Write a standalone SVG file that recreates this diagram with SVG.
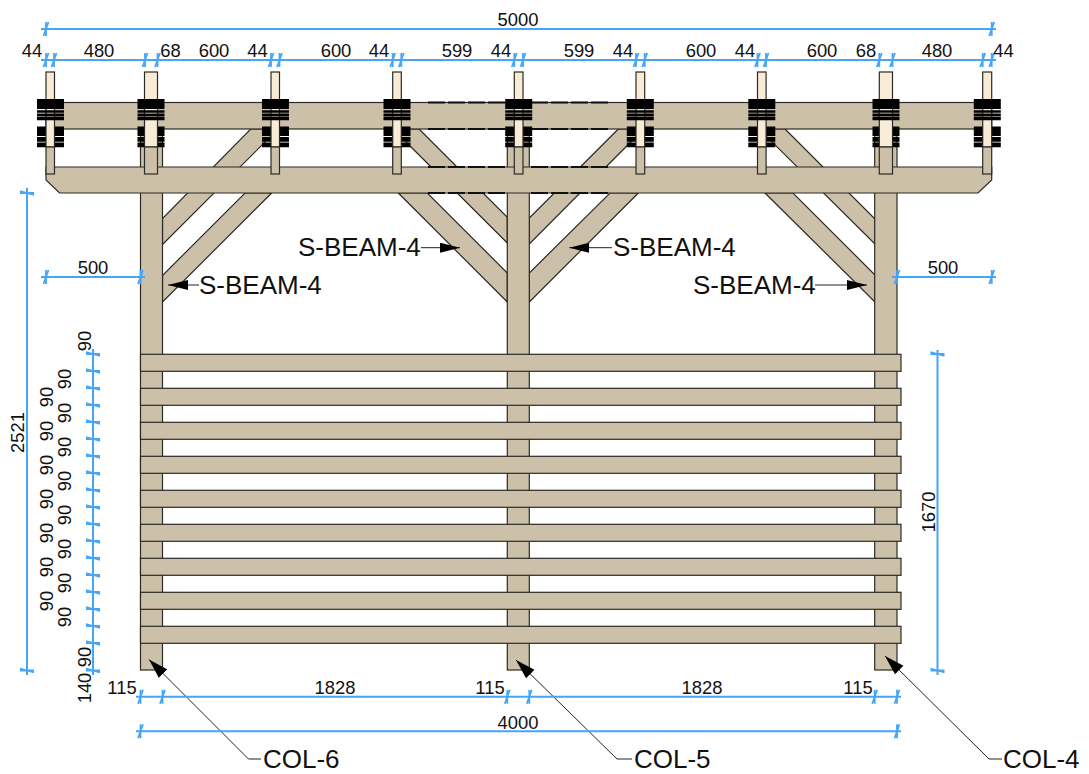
<svg xmlns="http://www.w3.org/2000/svg" xmlns:xlink="http://www.w3.org/1999/xlink" width="1089" height="774" viewBox="0 0 1089 774">
<style>
.w{fill:#cdc0a9;stroke:#2c2a26;stroke-width:1.2}
.p{fill:#f9ecd6;stroke:#2c2a26;stroke-width:1.2}
.dim{stroke:#45a5f8;stroke-width:2;fill:none}
.tk{stroke:#45a5f8;stroke-width:1.8;fill:none}
.ld{stroke:#222;stroke-width:1;fill:none}
.dash{stroke:#111;stroke-width:1.8;stroke-dasharray:17 3;fill:none}
text{font-family:"Liberation Sans",Arial,sans-serif;fill:#111}
.t{font-size:18.4px;text-anchor:middle}
.l{font-size:26px}
</style>
<defs>
<g id="th"><path class="tk" d="M0-7V7M-2.5 7L2.5-7"/></g>
<g id="tv"><path class="tk" d="M-7 0H7M-7-2L7 2"/></g>
<g id="blo"><path fill="#000" d="M-13.5 126.500h27v9.500h-27zM-13.5 137h27v4.800h-27zM-13.500 142.500h27v4.800h-27z"/></g>
<g id="bhi"><path fill="#000" d="M-13.500 99h27v10h-27zM-13.500 110.300h27v2.500h-27zM-13.500 113.500h27v2.500h-27zM-13.500 116.500h27v3.800h-27z"/></g>
<marker id="arr" viewBox="0 0 20 10" refX="20" refY="5" markerWidth="20" markerHeight="10" markerUnits="userSpaceOnUse" orient="auto"><path d="M0 0L20 5L0 10z" fill="#000"/></marker>
<marker id="arc" viewBox="0 0 20 12" refX="20" refY="6" markerWidth="20" markerHeight="13" markerUnits="userSpaceOnUse" orient="auto"><path d="M0 0L20 6L0 12z" fill="#000"/></marker>
</defs>

<g id="braces">
<polygon class="w" points="250.700,129 278,129 162.500,244.500 162.500,218.500"/>
<polygon class="w" points="245,193 271.700,193 162.500,302 162.500,275.500"/>
<polygon class="w" points="398.300,193 427.300,193 507.300,273 507.300,302"/>
<polygon class="w" points="419,129 507.300,217.300 507.300,243 393,129"/>
<polygon class="w" points="638.300,193 610,193 529.300,273 529.300,302"/>
<polygon class="w" points="618.300,129 529.300,218 529.300,244 643.700,129"/>
<polygon class="w" points="765,193 793,193 875,275 875,302"/>
<polygon class="w" points="785,129 875,219 875,244 759,129"/>
</g>
<g id="col-6"><rect class="w" x="140.500" y="129" width="22" height="541"/></g>
<g id="col-5"><rect class="w" x="507.300" y="129" width="22" height="541"/></g>
<g id="col-4"><rect class="w" x="874.700" y="129" width="22.300" height="541"/></g>
<g id="beam-top"><rect class="w" x="46" y="102.500" width="945.700" height="26.500"/></g>
<g id="beam-low"><polygon class="w" points="46,167 991.700,167 991.700,180 978,193 59.500,193 46,180"/></g>
<g id="hidden-lines">
<path class="dash" d="M428 102.500H507M531 102.500H608M428 129H507M531 129H608M428 167H507M531 167H608M428 193H507M531 193H608"/>
</g>
<g id="post-1"><use xlink:href="#blo" x="50.500"/><rect class="p" x="46" y="72" width="8.500" height="75"/><rect class="w" x="46" y="147" width="8.500" height="27"/><use xlink:href="#bhi" x="50.500"/></g>
<g id="post-2"><use xlink:href="#blo" x="151"/><rect class="p" x="144.500" y="72" width="13" height="75"/><rect class="w" x="144.500" y="147" width="13" height="27"/><use xlink:href="#bhi" x="151"/></g>
<g id="post-3"><use xlink:href="#blo" x="275.500"/><rect class="p" x="271" y="72" width="8.500" height="75"/><rect class="w" x="271" y="147" width="8.500" height="27"/><use xlink:href="#bhi" x="275.500"/></g>
<g id="post-4"><use xlink:href="#blo" x="397"/><rect class="p" x="392.700" y="72" width="8.600" height="75"/><rect class="w" x="392.700" y="147" width="8.600" height="27"/><use xlink:href="#bhi" x="397"/></g>
<g id="post-5"><use xlink:href="#blo" x="518.700"/><rect class="p" x="514.300" y="72" width="8.700" height="75"/><rect class="w" x="514.300" y="147" width="8.700" height="27"/><use xlink:href="#bhi" x="518.700"/></g>
<g id="post-6"><use xlink:href="#blo" x="640.300"/><rect class="p" x="636" y="72" width="8.700" height="75"/><rect class="w" x="636" y="147" width="8.700" height="27"/><use xlink:href="#bhi" x="640.300"/></g>
<g id="post-7"><use xlink:href="#blo" x="761.800"/><rect class="p" x="757.500" y="72" width="8.600" height="75"/><rect class="w" x="757.500" y="147" width="8.600" height="27"/><use xlink:href="#bhi" x="761.800"/></g>
<g id="post-8"><use xlink:href="#blo" x="886"/><rect class="p" x="879.300" y="72" width="13.200" height="75"/><rect class="w" x="879.300" y="147" width="13.200" height="27"/><use xlink:href="#bhi" x="886"/></g>
<g id="post-9"><use xlink:href="#blo" x="987.300"/><rect class="p" x="982.700" y="72" width="9" height="75"/><rect class="w" x="982.700" y="147" width="9" height="27"/><use xlink:href="#bhi" x="987.300"/></g>

<g id="planks">
<rect class="w" x="140.500" y="354.300" width="760.500" height="17"/>
<rect class="w" x="140.500" y="388.300" width="760.500" height="17"/>
<rect class="w" x="140.500" y="422.300" width="760.500" height="17"/>
<rect class="w" x="140.500" y="456.300" width="760.500" height="17"/>
<rect class="w" x="140.500" y="490.300" width="760.500" height="17"/>
<rect class="w" x="140.500" y="524.300" width="760.500" height="17"/>
<rect class="w" x="140.500" y="558.300" width="760.500" height="17"/>
<rect class="w" x="140.500" y="592.300" width="760.500" height="17"/>
<rect class="w" x="140.500" y="626.300" width="760.500" height="17"/>
</g>

<g id="connectors">
<path class="ld" marker-end="url(#arr)" d="M421 247.700H460"/>
<path class="ld" marker-end="url(#arr)" d="M612 247.700H569.300"/>
<path class="ld" marker-end="url(#arr)" d="M199 285H168"/>
<path class="ld" marker-end="url(#arr)" d="M815 285H867"/>
<path class="ld" marker-end="url(#arc)" d="M261 759H248.500L149 659.500"/>
<path class="ld" marker-end="url(#arc)" d="M632 759H617L516 660"/>
<path class="ld" marker-end="url(#arc)" d="M1002 759H989L885 656"/>
</g>

<g id="dimensions">
<path class="dim" d="M41 29H996M41 60H996M41 277H145M892 277H996M136 696.700H901M136 731.300H901M27 188V675M93 349V675M937.500 350V675"/>
<use xlink:href="#th" x="46" y="29"/><use xlink:href="#th" x="991.700" y="29"/>
<use xlink:href="#th" x="46" y="60"/><use xlink:href="#th" x="54" y="60"/><use xlink:href="#th" x="145" y="60"/><use xlink:href="#th" x="157.500" y="60"/><use xlink:href="#th" x="271" y="60"/><use xlink:href="#th" x="279.500" y="60"/><use xlink:href="#th" x="392.700" y="60"/><use xlink:href="#th" x="401.300" y="60"/><use xlink:href="#th" x="514.300" y="60"/><use xlink:href="#th" x="523" y="60"/><use xlink:href="#th" x="636" y="60"/><use xlink:href="#th" x="644.700" y="60"/><use xlink:href="#th" x="757.500" y="60"/><use xlink:href="#th" x="766" y="60"/><use xlink:href="#th" x="879.300" y="60"/><use xlink:href="#th" x="892.500" y="60"/><use xlink:href="#th" x="982.700" y="60"/><use xlink:href="#th" x="991.700" y="60"/>
<use xlink:href="#th" x="46" y="277"/><use xlink:href="#th" x="140.500" y="277"/><use xlink:href="#th" x="897" y="277"/><use xlink:href="#th" x="991.700" y="277"/>
<use xlink:href="#th" x="140.500" y="696.700"/><use xlink:href="#th" x="162.500" y="696.700"/><use xlink:href="#th" x="507.300" y="696.700"/><use xlink:href="#th" x="529.300" y="696.700"/><use xlink:href="#th" x="874.700" y="696.700"/><use xlink:href="#th" x="897" y="696.700"/>
<use xlink:href="#th" x="140.500" y="731.300"/><use xlink:href="#th" x="897" y="731.300"/>
<use xlink:href="#tv" x="27" y="193"/><use xlink:href="#tv" x="27" y="670.500"/>
<use xlink:href="#tv" x="937.500" y="354"/><use xlink:href="#tv" x="937.500" y="670.500"/>
<use xlink:href="#tv" x="93" y="354"/><use xlink:href="#tv" x="93" y="371"/><use xlink:href="#tv" x="93" y="388"/><use xlink:href="#tv" x="93" y="405"/><use xlink:href="#tv" x="93" y="422"/><use xlink:href="#tv" x="93" y="439"/><use xlink:href="#tv" x="93" y="456"/><use xlink:href="#tv" x="93" y="473"/><use xlink:href="#tv" x="93" y="490"/><use xlink:href="#tv" x="93" y="507"/><use xlink:href="#tv" x="93" y="524"/><use xlink:href="#tv" x="93" y="541"/><use xlink:href="#tv" x="93" y="558"/><use xlink:href="#tv" x="93" y="575"/><use xlink:href="#tv" x="93" y="592"/><use xlink:href="#tv" x="93" y="609"/><use xlink:href="#tv" x="93" y="626"/><use xlink:href="#tv" x="93" y="643"/><use xlink:href="#tv" x="93" y="670.500"/>
</g>

<g id="labels">
<text class="t" x="518" y="25.500">5000</text>
<text class="t" x="32" y="57">44</text><text class="t" x="99" y="57">480</text><text class="t" x="170.500" y="57">68</text><text class="t" x="214" y="57">600</text><text class="t" x="257.500" y="57">44</text><text class="t" x="336" y="57">600</text><text class="t" x="379" y="57">44</text><text class="t" x="457" y="57">599</text><text class="t" x="501" y="57">44</text><text class="t" x="579" y="57">599</text><text class="t" x="623" y="57">44</text><text class="t" x="701" y="57">600</text><text class="t" x="745" y="57">44</text><text class="t" x="822" y="57">600</text><text class="t" x="866" y="57">68</text><text class="t" x="937" y="57">480</text><text class="t" x="1003.500" y="57">44</text>
<text class="t" x="93" y="274">500</text><text class="t" x="943" y="274">500</text>
<text class="t" x="122" y="694">115</text><text class="t" x="335" y="694">1828</text><text class="t" x="490" y="694">115</text><text class="t" x="702" y="694">1828</text><text class="t" x="858" y="694">115</text>
<text class="t" x="518" y="729">4000</text>
<text class="t" transform="translate(24 432.500) rotate(-90)">2521</text>
<text class="t" transform="translate(935 512) rotate(-90)">1670</text>
<text class="t" transform="translate(90.700 341) rotate(-90)">90</text>
<text class="t" transform="translate(71 379) rotate(-90)">90</text><text class="t" transform="translate(71 413) rotate(-90)">90</text><text class="t" transform="translate(71 447) rotate(-90)">90</text><text class="t" transform="translate(71 481) rotate(-90)">90</text><text class="t" transform="translate(71 515) rotate(-90)">90</text><text class="t" transform="translate(71 549) rotate(-90)">90</text><text class="t" transform="translate(71 583) rotate(-90)">90</text><text class="t" transform="translate(71 617) rotate(-90)">90</text>
<text class="t" transform="translate(52.700 397) rotate(-90)">90</text><text class="t" transform="translate(52.700 431) rotate(-90)">90</text><text class="t" transform="translate(52.700 465) rotate(-90)">90</text><text class="t" transform="translate(52.700 499) rotate(-90)">90</text><text class="t" transform="translate(52.700 533) rotate(-90)">90</text><text class="t" transform="translate(52.700 567) rotate(-90)">90</text><text class="t" transform="translate(52.700 601) rotate(-90)">90</text>
<text class="t" transform="translate(90.700 657) rotate(-90)">90</text>
<text class="t" transform="translate(90.700 688) rotate(-90)">140</text>
<text class="l" x="298" y="256">S-BEAM-4</text>
<text class="l" x="613" y="256">S-BEAM-4</text>
<text class="l" x="199" y="293.500">S-BEAM-4</text>
<text class="l" x="693" y="293.500">S-BEAM-4</text>
<text class="l" x="263" y="768">COL-6</text>
<text class="l" x="634" y="768">COL-5</text>
<text class="l" x="1003" y="768">COL-4</text>
</g>
</svg>
